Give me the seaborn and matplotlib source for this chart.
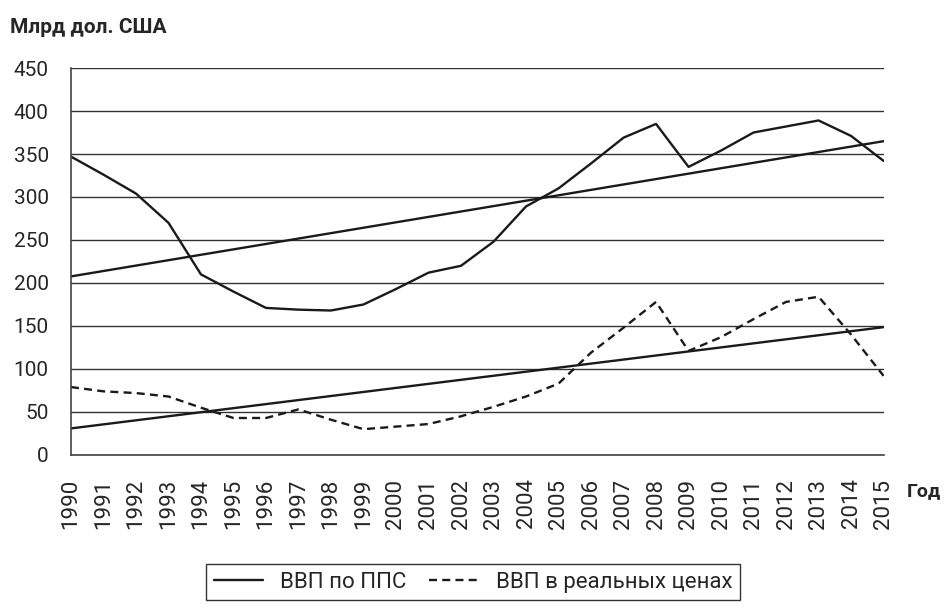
import numpy as np
import pandas as pd
import matplotlib
matplotlib.use('Agg')
import matplotlib.pyplot as plt
from matplotlib.lines import Line2D
import seaborn as sns

# ── Data ───────────────────────────────────────────────────────────────────────
YEARS = list(range(1990, 2016))
GDP_PPP = [347, 326, 304, 270, 210, 190, 171, 169, 168, 175, 193, 212, 220,
           248, 289, 310, 339, 369, 385, 335, 354, 375, 382, 389, 371, 342]
GDP_REAL = [79, 74, 72, 68, 55, 43, 43, 53, 41, 30, 33, 36, 45,
            56, 68, 83, 119, 148, 178, 121, 137, 158, 178, 184, 140, 92]
SERIES = ['ВВП по ППС', 'ВВП в реальных ценах']
Y_TICKS = list(range(0, 451, 50))

# ── Style ──────────────────────────────────────────────────────────────────────
sns.set_theme(style='white')
plt.rcParams['font.family'] = ['Roboto', 'DejaVu Sans']

df = pd.DataFrame({
    'year': YEARS * 2,
    'value': GDP_PPP + GDP_REAL,
    'series': [SERIES[0]] * len(YEARS) + [SERIES[1]] * len(YEARS),
})

fig = plt.figure(figsize=(9.46, 6.16), dpi=100)
ax = fig.add_axes([0.075, 0.2614, 0.859, 0.6282])

# horizontal grid
ax.set_axisbelow(True)
ax.yaxis.grid(True, color='#333333', linewidth=1.0)
ax.xaxis.grid(False)

LW = 1.7
DASH = (3.4, 2.2)
sns.lineplot(data=df, x='year', y='value', style='series',
             dashes={SERIES[0]: '', SERIES[1]: DASH},
             color='#1a1a1a', linewidth=LW, legend=False, ax=ax)

# linear trend lines
for vals in (GDP_PPP, GDP_REAL):
    sns.regplot(x=np.array(YEARS), y=np.array(vals), ci=None, scatter=False,
                truncate=True, ax=ax,
                line_kws={'color': '#1a1a1a', 'linewidth': LW})

ax.set_xlim(1990, 2015)
ax.set_ylim(0, 450)
ax.set_xticks(YEARS)
ax.set_xticklabels([str(y) for y in YEARS], rotation=90, fontsize=16)
ax.set_yticks(Y_TICKS)
ax.set_yticklabels([str(v) for v in Y_TICKS], fontsize=15)
ax.set_xlabel('')
ax.set_ylabel('')

for s in ('top', 'right'):
    ax.spines[s].set_visible(False)
for s in ('left', 'bottom'):
    ax.spines[s].set_color('#444444')
    ax.spines[s].set_linewidth(1.2)
ax.tick_params(axis='both', which='major', direction='out', length=6,
               width=1.5, color='#999999')
ax.tick_params(axis='y', pad=10)
ax.tick_params(axis='x', pad=11)

fig.text(0.011, 0.955, 'Млрд дол. США', fontsize=15, fontweight='bold',
         ha='left', va='center')
fig.text(0.958, 0.203, 'Год', fontsize=14, fontweight='bold',
         ha='left', va='center')

handles = [Line2D([], [], color='#1a1a1a', linewidth=LW),
           Line2D([], [], color='#1a1a1a', linewidth=LW, dashes=DASH)]
leg = fig.legend(handles, SERIES, loc='center', bbox_to_anchor=(0.5, 0.055),
                 ncol=2, frameon=True, fontsize=16, fancybox=False,
                 handlelength=2.2, columnspacing=1.0, borderpad=0.35)
leg.get_frame().set_edgecolor('black')
leg.get_frame().set_linewidth(1.0)

fig.savefig('out.png', dpi=100)
